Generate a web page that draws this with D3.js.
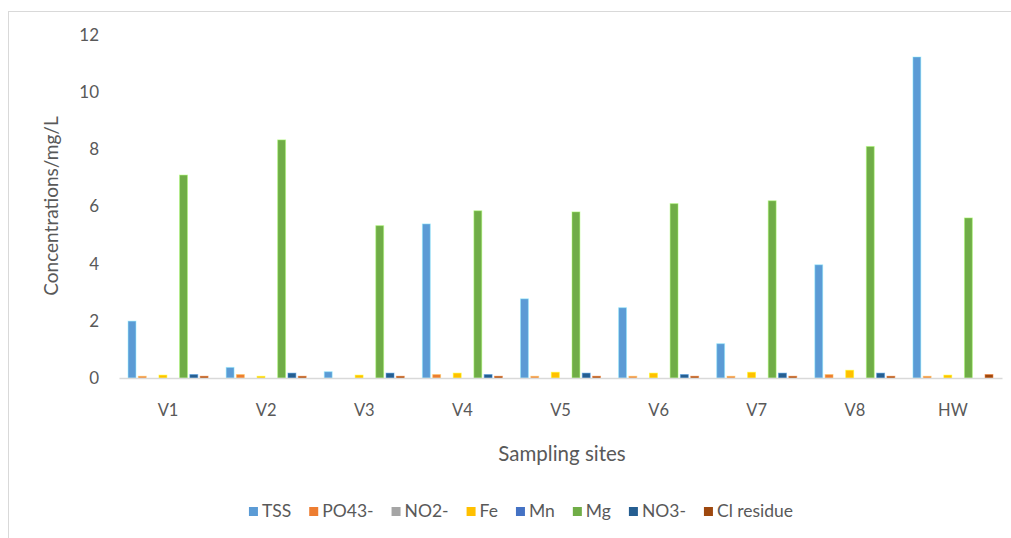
<!DOCTYPE html>
<html lang="en">
<head>
	<meta charset="UTF-8">
	<title>Concentrations by sampling site</title>
	<style>
		body { margin: 0; background: #fff; }
		text { font-family: Lato, "Open Sans", sans-serif; fill: #595959; }
	</style>
</head>
<body>
	<script src="https://d3js.org/d3.v7.min.js"></script>
	<script type="text/javascript">
		// data
		var sites = ["V1", "V2", "V3", "V4", "V5", "V6", "V7", "V8", "HW"];
		var seriesNames = ["TSS", "PO43-", "NO2-", "Fe", "Mn", "Mg", "NO3-", "Cl residue"];
		var seriesColors = ["#5B9BD5", "#ED7D31", "#A5A5A5", "#FFC000", "#4472C4", "#70AD47", "#255E91", "#9E480E"];
		var tss = [1.99, 0.37, 0.22, 5.39, 2.77, 2.46, 1.2, 3.96, 11.23];
		var po4 = [0.06, 0.12, 0, 0.12, 0.06, 0.06, 0.06, 0.12, 0.06];
		var no2 = [0, 0, 0, 0, 0, 0, 0, 0, 0];
		var fe = [0.1, 0.06, 0.1, 0.17, 0.2, 0.17, 0.2, 0.27, 0.1];
		var mn = [0, 0, 0, 0, 0, 0, 0, 0, 0];
		var mg = [7.1, 8.33, 5.33, 5.85, 5.81, 6.1, 6.2, 8.1, 5.6];
		var no3 = [0.12, 0.17, 0.17, 0.12, 0.17, 0.12, 0.17, 0.17, 0];
		var cl = [0.06, 0.06, 0.06, 0.06, 0.06, 0.06, 0.06, 0.06, 0.12];
		var yTicks = [0, 2, 4, 6, 8, 10, 12];

		var seriesValues = [tss, po4, no2, fe, mn, mg, no3, cl];

		var W = 1011, H = 538;
		var svg = d3.select("body").append("svg").attr("width", W).attr("height", H);

		// chart frame (right and bottom edges fall outside the picture)
		svg.append("rect").attr("x", 8.5).attr("y", 11.5).attr("width", W + 20).attr("height", H + 20)
			.attr("fill", "none").attr("stroke", "#d9d9d9");

		var x = d3.scaleBand().domain(sites).range([119, 1002]).paddingInner(0.16).paddingOuter(0.08);
		var xs = d3.scaleBand().domain(seriesNames).range([0, x.bandwidth()]);
		var y = d3.scaleLinear().domain([0, 12]).range([378, 35]);

		// y axis labels only
		var yAxis = svg.append("g").attr("transform", "translate(105,0)")
			.call(d3.axisLeft(y).tickValues(yTicks).tickSize(0).tickPadding(6));
		yAxis.select(".domain").remove();
		yAxis.selectAll("text").style("font-size", "17px").attr("fill", "#595959");

		// bars
		var groups = svg.selectAll("g.site").data(sites).enter().append("g")
			.attr("class", "site")
			.attr("transform", function(d) { return "translate(" + x(d) + ",0)"; });

		groups.selectAll("rect")
			.data(function(d, i) {
				return seriesNames.map(function(s, j) { return {name: s, value: seriesValues[j][i], color: seriesColors[j]}; });
			})
			.enter().append("rect")
			.filter(function(d) { return d.value > 0; })
			.attr("x", function(d) { return xs(d.name) + 1.2; })
			.attr("width", xs.bandwidth() - 2.4)
			.attr("y", function(d) { return y(d.value); })
			.attr("height", function(d) { return y(0) - y(d.value); })
			.attr("fill", function(d) { return d.color; })
			.attr("stroke", function(d) { return d3.color(d.color).brighter(1.2); })
			.attr("stroke-opacity", 0.5)
			.attr("stroke-width", 1);

		// x axis
		var xAxis = svg.append("g").attr("transform", "translate(0," + y(0) + ")")
			.call(d3.axisBottom(x).tickSize(0).tickPadding(26));
		xAxis.select(".domain").attr("stroke", "#d9d9d9").attr("stroke-width", 1.5);
		xAxis.selectAll("text").style("font-size", "16.5px").attr("fill", "#595959");

		// axis titles
		svg.append("text").attr("x", 562).attr("y", 461).attr("text-anchor", "middle")
			.style("font-size", "20.5px").text("Sampling sites");
		svg.append("text").attr("transform", "translate(58,206) rotate(-90)").attr("text-anchor", "middle")
			.style("font-size", "19px").text("Concentrations/mg/L");

		// legend
		var legend = svg.append("g").attr("transform", "translate(0,516)");
		var items = legend.selectAll("g").data(seriesNames).enter().append("g");
		items.append("rect").attr("width", 9).attr("height", 9).attr("y", -9)
			.attr("fill", function(d, i) { return seriesColors[i]; });
		items.append("text").attr("x", 13).attr("y", 0).attr("dy", "0.05em")
			.style("font-size", "17.5px").text(function(d) { return d; });

		var widths = [];
		items.each(function() { widths.push(d3.select(this).select("text").node().getComputedTextLength() + 13); });
		var gap = 18;
		var total = d3.sum(widths) + gap * (widths.length - 1);
		var pos = 521 - total / 2;
		items.attr("transform", function(d, i) {
			var t = "translate(" + pos + ",0)";
			pos += widths[i] + gap;
			return t;
		});
	</script>
</body>
</html>
